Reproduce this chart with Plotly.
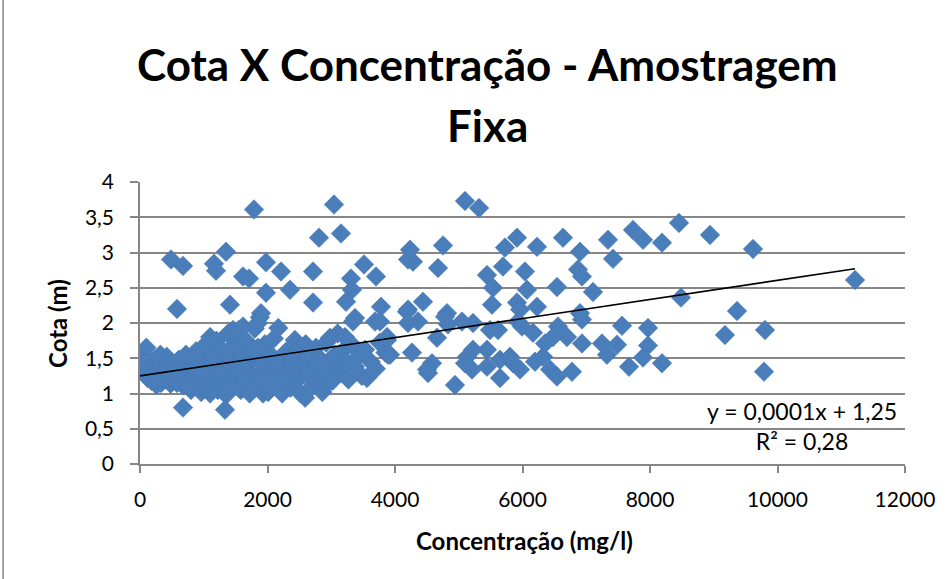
import plotly.graph_objects as go

# Dense cluster (low concentrations)
conc_cluster = [
    50, 80, 100, 120, 150, 180, 200, 230, 260, 280, 300, 330, 350, 380, 400, 420, 450, 480, 500, 60, 140, 240, 320, 460,
    520, 550, 580, 610, 640, 670, 700, 720, 750, 780, 800, 830, 860, 880, 900, 930, 960, 980, 600, 760, 850, 950,
    1000, 1030, 1060, 1080, 1100, 1130, 1150, 1180, 1200, 1220, 1250, 1280, 1300, 1330, 1350, 1380, 1400, 1420, 1450, 1480, 1050, 1170, 1270, 1440, 1100, 1459,
    1520, 1550, 1580, 1600, 1630, 1660, 1690, 1720, 1750, 1780, 1800, 1830, 1860, 1880, 1900, 1930, 1960, 1990, 1560, 1700, 1850, 1950, 1616,
    2010, 2050, 2080, 2100, 2150, 2170, 2200, 2230, 2260, 2300, 2330, 2360, 2400, 2430, 2460, 2490, 2120, 2380, 2478,
    2520, 2560, 2590, 2620, 2660, 2700, 2730, 2760, 2800, 2840, 2880, 2920, 2950, 2980, 2600, 2860, 2980,
    3020, 3060, 3100, 3140, 3180, 3220, 3270, 3320, 3370, 3420, 3480, 3530, 3560, 3620, 3700, 3760, 3850, 3216, 3875, 3341,
]
cota_cluster = [
    1.35, 1.52, 1.65, 1.22, 1.42, 1.18, 1.30, 1.48, 1.12, 1.25, 1.38, 1.15, 1.45, 1.28, 1.20, 1.52, 1.33, 1.14, 1.42, 1.45, 1.30, 1.20, 1.55, 1.25,
    1.22, 1.35, 1.15, 1.48, 1.28, 1.12, 1.40, 1.55, 1.20, 1.32, 1.05, 1.45, 1.25, 1.60, 1.15, 1.38, 1.02, 1.50, 1.30, 1.10, 1.35, 1.22,
    1.28, 1.70, 1.12, 1.45, 1.00, 1.58, 1.30, 1.20, 1.75, 1.05, 1.42, 1.62, 1.15, 1.35, 0.98, 1.85, 1.25, 1.50, 1.10, 1.70, 1.35, 1.48, 1.25, 1.38, 1.80, 1.90,
    1.30, 1.90, 1.05, 1.55, 1.18, 1.75, 1.40, 1.00, 1.62, 1.25, 1.92, 1.12, 1.48, 2.08, 1.30, 1.00, 1.70, 1.20, 1.42, 1.28, 1.65, 1.45, 1.95,
    1.02, 1.55, 1.30, 1.78, 1.12, 1.93, 1.45, 1.00, 1.22, 1.60, 1.35, 1.08, 1.50, 1.76, 1.18, 1.30, 1.40, 1.25, 1.62,
    1.00, 1.42, 0.94, 1.25, 1.55, 1.10, 1.35, 1.65, 1.20, 1.48, 1.30, 1.72, 1.15, 1.40, 1.70, 1.02, 1.79,
    1.18, 1.55, 1.85, 1.30, 1.60, 1.45, 1.20, 1.70, 1.38, 1.52, 1.25, 1.62, 1.22, 1.45, 1.35, 1.72, 1.58, 1.80, 1.80, 2.02,
]

# Scattered points
conc_spread = [
    486, 675, 580, 675, 1161, 1192, 1349, 1333, 1412, 1788, 1616, 1710, 1976, 1976, 2212, 2353, 2714, 2808, 3043, 3153,
    3514, 3310, 3702, 3325, 3231, 1898, 1851, 2714, 3373, 3780, 3686, 4188,
    4235, 4282, 4204, 4753, 4675, 5098, 5318, 4439, 4204, 4204, 4361, 4816, 4659, 4267, 4580, 4518, 4941, 5129, 5208, 5224,
    5443, 5537, 5522, 5443, 5616, 5647, 5647, 5725, 5694, 5914, 6039, 6071, 5914, 5961, 6227, 5929, 5992, 6227, 6635, 6902,
    6871, 6933, 6541, 7106, 7341, 7420, 7733, 7890, 8188, 8455, 8486, 6902, 6933, 6557, 6698, 6933, 7247, 7325, 7482, 7561,
    7969, 7969, 7890, 7671, 8188, 6165, 6353, 6478, 5851, 5961, 6196, 6322, 6431, 6541, 6776, 5804, 5224, 5098, 5443, 5051,
    5490, 3875, 3890, 4502, 4784, 4831, 3765, 3922,
    8941, 9616, 9365, 9176, 9804, 9788, 11216,
]
cota_spread = [
    2.90, 2.81, 2.20, 0.80, 2.84, 2.74, 3.01, 0.77, 2.26, 3.61, 2.66, 2.63, 2.86, 2.43, 2.73, 2.47, 2.73, 3.21, 3.68, 3.27,
    2.83, 2.63, 2.66, 2.47, 2.30, 2.14, 2.00, 2.29, 2.07, 2.23, 2.02, 2.16,
    3.04, 2.87, 2.90, 3.10, 2.78, 3.73, 3.63, 2.30, 2.19, 2.00, 2.02, 2.14, 1.79, 1.58, 1.43, 1.29, 1.12, 1.52, 1.34, 2.00,
    2.68, 2.50, 2.26, 1.62, 1.90, 1.48, 1.22, 3.07, 2.80, 3.21, 2.73, 2.47, 2.29, 2.19, 2.23, 2.02, 1.95, 3.08, 3.21, 3.01,
    2.76, 2.66, 2.51, 2.44, 3.18, 2.91, 3.32, 3.18, 3.14, 3.42, 2.36, 2.14, 2.05, 1.95, 1.80, 1.71, 1.71, 1.55, 1.69, 1.96,
    1.93, 1.68, 1.51, 1.38, 1.43, 1.86, 1.71, 1.80, 1.43, 1.34, 1.45, 1.52, 1.34, 1.24, 1.31, 1.52, 1.62, 1.43, 1.38, 2.02,
    1.90, 1.76, 1.55, 1.34, 2.09, 1.98, 2.02, 1.55,
    3.25, 3.05, 2.17, 1.83, 1.90, 1.31, 2.61,
]

# Linear trendline endpoints
trend_x = [0, 11216]
trend_y = [1.25, 2.77]

x_tickvals = [0, 2000, 4000, 6000, 8000, 10000, 12000]
x_ticktext = ["0", "2000", "4000", "6000", "8000", "10000", "12000"]
y_tickvals = [0, 0.5, 1, 1.5, 2, 2.5, 3, 3.5, 4]
y_ticktext = ["0", "0,5", "1", "1,5", "2", "2,5", "3", "3,5", "4"]

title_lines = ["Cota X Concentração - Amostragem", "Fixa"]
x_title = "Concentração (mg/l)"
y_title = "Cota (m)"
equation = "y = 0,0001x + 1,25"
r2 = "R² = 0,28"

FONT = "Lato"
GRID = "#868686"

fig = go.Figure()
fig.add_trace(go.Scatter(
    x=conc_cluster + conc_spread,
    y=cota_cluster + cota_spread,
    mode="markers",
    marker=dict(symbol="diamond", size=15, color="#4A7EBB",
                line=dict(color="#4677B3", width=0.6)),
    showlegend=False,
))
fig.add_trace(go.Scatter(
    x=trend_x, y=trend_y, mode="lines",
    line=dict(color="black", width=1.6),
    showlegend=False,
))

fig.update_layout(
    width=952, height=579,
    margin=dict(l=140, r=47, t=182, b=115),
    paper_bgcolor="white", plot_bgcolor="white",
    font=dict(family=FONT, color="black"),
    showlegend=False,
)
fig.update_xaxes(
    range=[0, 12000], tickvals=x_tickvals, ticktext=x_ticktext,
    showgrid=False, zeroline=False,
    showline=True, linecolor=GRID, linewidth=1.5,
    ticks="outside", ticklen=7, tickcolor=GRID, tickwidth=1.5,
    tickfont=dict(size=21, family=FONT), ticklabelstandoff=9,
)
fig.update_yaxes(
    range=[0, 4], tickvals=y_tickvals, ticktext=y_ticktext,
    showgrid=True, gridcolor=GRID, gridwidth=1.5, zeroline=False,
    showline=True, linecolor=GRID, linewidth=1.5,
    ticks="outside", ticklen=8, tickcolor=GRID, tickwidth=1.5,
    tickfont=dict(size=21, family=FONT), ticklabelstandoff=12,
)

# axis titles
fig.add_annotation(text="<b>" + x_title + "</b>", xref="paper", yref="paper",
                   x=0.502, y=-0.273, showarrow=False, font=dict(size=24, family=FONT),
                   xanchor="center", yanchor="middle")
fig.add_annotation(text="<b>" + y_title + "</b>", xref="paper", yref="paper",
                   x=-0.1085, y=0.5, showarrow=False, font=dict(size=24, family=FONT),
                   textangle=-90, xanchor="center", yanchor="middle")

# chart title
fig.add_annotation(text="<b>" + title_lines[0] + "</b>", xref="paper", yref="paper",
                   x=0.4536, y=1.418, showarrow=False, font=dict(size=44, family=FONT),
                   xanchor="center", yanchor="middle")
fig.add_annotation(text="<b>" + title_lines[1] + "</b>", xref="paper", yref="paper",
                   x=0.4536, y=1.202, showarrow=False, font=dict(size=44, family=FONT),
                   xanchor="center", yanchor="middle")

# trendline label
fig.add_annotation(text=equation + "<br>" + r2, x=10384, y=0.54, xref="x", yref="y",
                   showarrow=False, font=dict(size=23, family=FONT), align="center",
                   xanchor="center", yanchor="middle")

# chart border on the left edge
fig.add_shape(type="line", xref="paper", yref="paper", x0=-0.179, x1=-0.179, y0=-0.41, y1=1.65,
              line=dict(color=GRID, width=1.5))

fig.write_html("out.html")
